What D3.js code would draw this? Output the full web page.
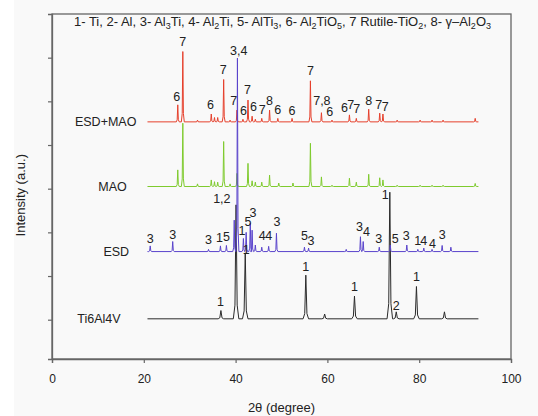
<!DOCTYPE html>
<html>
<head>
<meta charset="utf-8">
<script src="https://cdn.jsdelivr.net/npm/d3@7"></script>
<style>
  body { margin: 0; background: #fff; }
  svg text { font-family: "Liberation Sans", Arial, sans-serif; fill: #222; }
</style>
</head>
<body>
<div class="chart"></div>
<script>
// ---- data (2theta in degrees, intensity in arbitrary units) ----
var seriesNames = ["Ti6Al4V", "ESD", "MAO", "ESD+MAO"];
var seriesColors = ["#2b2b2b", "#5a44cc", "#7fcb2e", "#e6402c"];
var baselines = [1.02, 2.56, 4.05, 5.53];
var scanRange = [20.8, 92.9];
var xTicks = [0, 20, 40, 60, 80, 100];
var yTicks = [1, 2, 3, 4, 5, 6, 7];

var tiPeaks = [[36.8, 1.21], [40.1, 3.63], [42.1, 2.53], [55.3, 2.02], [59.4, 1.13],
  [65.9, 1.54], [73.6, 3.92], [75.0, 1.18], [79.4, 1.76], [85.5, 1.18]];

var esdPeaks = [[21.4, 2.69], [26.3, 2.79], [34.1, 2.61], [36.7, 2.69], [38.0, 2.70],
  [39.7, 3.28], [40.4, 6.99], [41.7, 2.86], [42.3, 3.0], [43.2, 3.21], [43.6, 3.05],
  [44.3, 2.71], [45.7, 2.66], [47.2, 2.68], [48.9, 2.98], [55.0, 2.66], [55.9, 2.64],
  [64.1, 2.61], [67.2, 2.90], [67.8, 2.79], [71.3, 2.66], [73.7, 2.71], [77.3, 2.71],
  [79.7, 2.61], [81.0, 2.64], [82.8, 2.61], [85.0, 2.70], [86.9, 2.66]];

var maoPeaks = [[27.4, 4.43], [28.5, 5.50], [31.7, 4.11], [34.7, 4.20], [35.4, 4.16],
  [36.1, 4.15], [37.4, 5.08], [38.8, 4.11], [40.3, 4.35], [42.7, 4.58], [43.6, 4.18],
  [44.3, 4.15], [45.7, 4.15], [47.4, 4.31], [49.4, 4.13], [52.5, 4.13], [56.3, 5.04],
  [58.7, 4.27], [61.0, 4.08], [64.8, 4.24], [66.3, 4.15], [69.0, 4.33], [71.4, 4.25],
  [72.1, 4.20], [75.2, 4.08], [80.2, 4.08], [82.8, 4.08], [85.2, 4.08], [92.2, 4.12]];

var esdMaoPeaks = [[27.4, 5.92], [28.5, 7.14], [31.7, 5.57], [34.7, 5.71], [35.4, 5.63],
  [36.1, 5.63], [37.4, 6.50], [38.8, 5.57], [40.3, 5.80], [41.6, 5.59], [42.7, 6.03],
  [43.6, 5.66], [44.3, 5.59], [45.7, 5.61], [47.4, 5.80], [49.2, 5.61], [52.3, 5.61],
  [56.3, 6.47], [58.7, 5.74], [61.0, 5.57], [64.8, 5.69], [66.3, 5.61], [69.0, 5.82],
  [71.4, 5.73], [72.1, 5.71], [75.2, 5.57], [80.2, 5.57], [82.8, 5.57], [85.2, 5.57],
  [92.2, 5.61]];

// peak labels: [2theta, intensity, text]
var tiLabels = [[36.7, 1.41, "1"], [42.3, 2.60, "1"], [55.3, 2.21, "1"], [65.9, 1.76, "1"],
  [72.6, 3.86, "1"], [75.0, 1.32, "2"], [79.4, 1.98, "1"]];

var esdLabels = [[40.7, 7.17, "3,4"], [37.0, 3.78, "1,2"], [21.4, 2.86, "3"], [26.3, 2.96, "3"],
  [34.1, 2.84, "3"], [36.5, 2.89, "1"], [38.0, 2.90, "5"], [41.4, 3.05, "1"], [42.7, 3.24, "5"],
  [43.8, 3.46, "3"], [45.8, 2.92, "4"], [47.2, 2.92, "4"], [49.0, 3.24, "3"], [55.0, 2.92, "5"],
  [56.4, 2.82, "3"], [67.0, 3.13, "3"], [68.5, 3.03, "4"], [71.2, 2.85, "3"], [74.8, 2.85, "5"],
  [77.2, 2.92, "3"], [79.7, 2.82, "1"], [81.0, 2.82, "4"], [82.9, 2.75, "4"], [85.0, 2.94, "3"]];

var esdMaoLabels = [[27.2, 6.11, "6"], [28.5, 7.38, "7"], [34.5, 5.92, "6"], [37.3, 6.72, "7"],
  [39.6, 6.01, "7"], [41.7, 5.79, "6"], [42.6, 6.28, "7"], [43.9, 5.88, "6"], [45.8, 5.82, "7"],
  [47.4, 6.01, "8"], [49.2, 5.82, "6"], [52.3, 5.80, "6"], [56.3, 6.70, "7"], [58.8, 6.03, "7,8"],
  [60.5, 5.76, "6"], [63.7, 5.85, "6"], [65.1, 5.92, "7"], [66.4, 5.84, "7"], [69.0, 6.01, "8"],
  [71.2, 5.92, "7"], [72.6, 5.88, "7"]];

var legendParts = [["1- Ti, 2- Al, 3- Al", 0], ["3", 1], ["Ti, 4- Al", 0], ["2", 1],
  ["Ti, 5- AlTi", 0], ["3", 1], [", 6- Al", 0], ["2", 1], ["TiO", 0], ["5", 1],
  [", 7 Rutile-TiO", 0], ["2", 1], [", 8- \u03b3\u2013Al", 0], ["2", 1], ["O", 0], ["3", 1]];

var allPeaks = [tiPeaks, esdPeaks, maoPeaks, esdMaoPeaks];
var allLabels = [tiLabels, esdLabels, [], esdMaoLabels];
// name label anchor (x in 2theta units, y = series baseline)
var nameX = [5.5, 11.2, 10.1, 5.0];

// ---- layout ----
var svgWidth = 538;
var svgHeight = 416;
var margin = {top: 14, right: 27, bottom: 57, left: 52};
var width = svgWidth - margin.left - margin.right;
var height = svgHeight - margin.top - margin.bottom;
var peakHalfWidth = [0.6, 0.32, 0.32, 0.32];

var svg = d3.select(".chart")
  .append("svg")
  .attr("width", svgWidth)
  .attr("height", svgHeight);

svg.append("rect")
  .attr("x", 14).attr("y", 0)
  .attr("width", svgWidth - 14).attr("height", svgHeight)
  .attr("fill", "#f9f9f9");

var chartGroup = svg.append("g")
  .attr("transform", `translate(${margin.left}, ${margin.top})`);

var xScale = d3.scaleLinear().domain([0, 100]).range([0, width]);
var yScale = d3.scaleLinear().domain([0.1, 8]).range([height, 0]);

// turn a peak list into a polyline: flat baseline with a narrow spike per peak
function patternPoints(peaks, base, w) {
  var pts = [[scanRange[0], base]];
  peaks.forEach(function(p) {
    var h = p[1] - base;
    pts.push([p[0] - w, base]);
    pts.push([p[0] - w * 0.4, base + h * 0.12]);
    pts.push([p[0], p[1]]);
    pts.push([p[0] + w * 0.4, base + h * 0.12]);
    pts.push([p[0] + w, base]);
  });
  pts.push([scanRange[1], base]);
  return pts;
}

var line = d3.line()
  .x(d => xScale(d[0]))
  .y(d => yScale(d[1]));

// draw order: black, green, red, then blue on top
[0, 2, 3, 1].forEach(function(i) {
  chartGroup.append("path")
    .attr("d", line(patternPoints(allPeaks[i], baselines[i], peakHalfWidth[i])))
    .attr("fill", "none")
    .attr("stroke", seriesColors[i])
    .attr("stroke-width", 1)
    .attr("stroke-linejoin", "round");
});

// peak labels
allLabels.forEach(function(labels) {
  chartGroup.selectAll(null)
    .data(labels)
    .enter()
    .append("text")
    .attr("x", d => xScale(d[0]))
    .attr("y", d => yScale(d[1]))
    .attr("dy", "0.36em")
    .attr("text-anchor", "middle")
    .attr("font-size", "12.5px")
    .text(d => d[2]);
});

// series names
seriesNames.forEach(function(name, i) {
  chartGroup.append("text")
    .attr("x", xScale(nameX[i]))
    .attr("y", yScale(baselines[i]))
    .attr("dy", "0.36em")
    .attr("font-size", "12.5px")
    .text(name);
});

// frame + axes
chartGroup.append("rect")
  .attr("width", width)
  .attr("height", height)
  .attr("fill", "none")
  .attr("stroke", "#666")
  .attr("stroke-width", 1.3);

var bottomAxis = d3.axisBottom(xScale).tickValues(xTicks).tickSize(4).tickPadding(11);
var leftAxis = d3.axisLeft(yScale).tickValues(yTicks).tickSize(4).tickFormat("");

var xAxis = chartGroup.append("g")
  .attr("transform", `translate(0, ${height})`)
  .call(bottomAxis);
var yAxis = chartGroup.append("g").call(leftAxis);

[xAxis, yAxis].forEach(function(ax) {
  ax.select(".domain").attr("stroke", "#666").attr("stroke-width", 1.3);
  ax.selectAll(".tick line").attr("stroke", "#666").attr("stroke-width", 1.2);
  ax.selectAll(".tick text")
    .attr("font-size", "12px")
    .attr("font-family", "Liberation Sans, Arial, sans-serif")
    .attr("fill", "#222");
});

// axis titles
chartGroup.append("text")
  .attr("x", width / 2)
  .attr("y", height + 53)
  .attr("text-anchor", "middle")
  .attr("font-size", "13px")
  .text("2\u03b8 (degree)");

chartGroup.append("text")
  .attr("transform", "rotate(-90)")
  .attr("x", -(yScale(3.85)))
  .attr("y", -margin.left + 25)
  .attr("text-anchor", "middle")
  .attr("font-size", "13px")
  .text("Intensity (a.u.)");

// phase key along the top
var key = chartGroup.append("text")
  .attr("x", width / 2 + 1)
  .attr("y", 12)
  .attr("text-anchor", "middle")
  .attr("font-size", "13px");

legendParts.forEach(function(part, i) {
  var prevSub = i > 0 && legendParts[i - 1][1];
  key.append("tspan")
    .attr("dy", part[1] ? 3 : (prevSub ? -3 : 0))
    .attr("font-size", part[1] ? "9px" : "13px")
    .text(part[0]);
});
</script>
</body>
</html>
